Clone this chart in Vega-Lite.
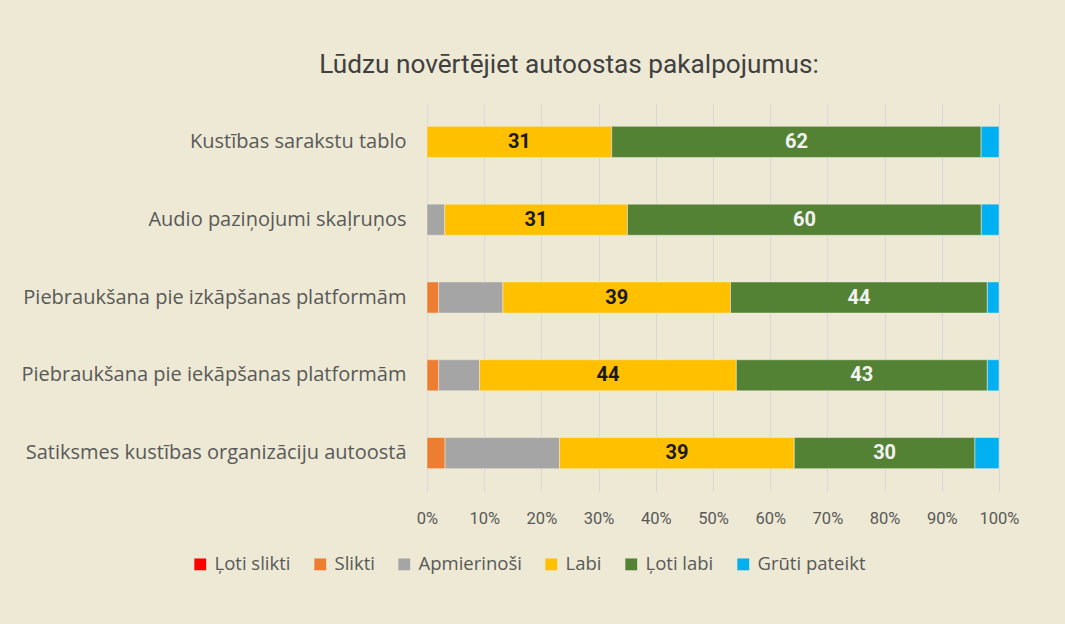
{
  "$schema": "https://vega.github.io/schema/vega-lite/v6.json",
  "autosize": "none",
  "width": 572,
  "height": 389,
  "padding": {"left": 427, "top": 103, "right": 66, "bottom": 132},
  "background": "#ede9d4",
  "title": {
    "text": "Lūdzu novērtējiet autoostas pakalpojumus:",
    "font": "Roboto",
    "fontSize": 26.2,
    "fontWeight": "normal",
    "color": "#404040",
    "anchor": "middle",
    "dx": -144,
    "offset": 25
  },
  "data": {
    "values": [
      {"q": "Kustības sarakstu tablo", "cat": "Labi", "o": 4, "count": 31},
      {"q": "Kustības sarakstu tablo", "cat": "Ļoti labi", "o": 5, "count": 62},
      {"q": "Kustības sarakstu tablo", "cat": "Grūti pateikt", "o": 6, "count": 3},
      {"q": "Audio paziņojumi skaļruņos", "cat": "Apmierinoši", "o": 3, "count": 3},
      {"q": "Audio paziņojumi skaļruņos", "cat": "Labi", "o": 4, "count": 31},
      {"q": "Audio paziņojumi skaļruņos", "cat": "Ļoti labi", "o": 5, "count": 60},
      {"q": "Audio paziņojumi skaļruņos", "cat": "Grūti pateikt", "o": 6, "count": 3},
      {"q": "Piebraukšana pie izkāpšanas platformām", "cat": "Slikti", "o": 2, "count": 2},
      {"q": "Piebraukšana pie izkāpšanas platformām", "cat": "Apmierinoši", "o": 3, "count": 11},
      {"q": "Piebraukšana pie izkāpšanas platformām", "cat": "Labi", "o": 4, "count": 39},
      {"q": "Piebraukšana pie izkāpšanas platformām", "cat": "Ļoti labi", "o": 5, "count": 44},
      {"q": "Piebraukšana pie izkāpšanas platformām", "cat": "Grūti pateikt", "o": 6, "count": 2},
      {"q": "Piebraukšana pie iekāpšanas platformām", "cat": "Slikti", "o": 2, "count": 2},
      {"q": "Piebraukšana pie iekāpšanas platformām", "cat": "Apmierinoši", "o": 3, "count": 7},
      {"q": "Piebraukšana pie iekāpšanas platformām", "cat": "Labi", "o": 4, "count": 44},
      {"q": "Piebraukšana pie iekāpšanas platformām", "cat": "Ļoti labi", "o": 5, "count": 43},
      {"q": "Piebraukšana pie iekāpšanas platformām", "cat": "Grūti pateikt", "o": 6, "count": 2},
      {"q": "Satiksmes kustības organizāciju autoostā", "cat": "Slikti", "o": 2, "count": 3},
      {"q": "Satiksmes kustības organizāciju autoostā", "cat": "Apmierinoši", "o": 3, "count": 19},
      {"q": "Satiksmes kustības organizāciju autoostā", "cat": "Labi", "o": 4, "count": 39},
      {"q": "Satiksmes kustības organizāciju autoostā", "cat": "Ļoti labi", "o": 5, "count": 30},
      {"q": "Satiksmes kustības organizāciju autoostā", "cat": "Grūti pateikt", "o": 6, "count": 4}
    ]
  },
  "encoding": {
    "y": {
      "field": "q",
      "type": "nominal",
      "sort": [
        "Kustības sarakstu tablo",
        "Audio paziņojumi skaļruņos",
        "Piebraukšana pie izkāpšanas platformām",
        "Piebraukšana pie iekāpšanas platformām",
        "Satiksmes kustības organizāciju autoostā"
      ],
      "scale": {"paddingInner": 0.6, "paddingOuter": 0.3},
      "axis": {
        "title": null,
        "domain": false,
        "ticks": false,
        "grid": false,
        "labelPadding": 21,
        "labelFont": "Open Sans",
        "labelFontSize": 20,
        "labelColor": "#595959",
        "labelLimit": 0
      }
    },
    "x": {
      "field": "count",
      "type": "quantitative",
      "aggregate": "sum",
      "stack": "normalize",
      "scale": {"domain": [0, 1], "nice": false},
      "axis": {
        "title": null,
        "format": ".0%",
        "values": [0, 0.1, 0.2, 0.3, 0.4, 0.5, 0.6, 0.7, 0.8, 0.9, 1],
        "labelOverlap": false,
        "labelFlush": false,
        "domain": false,
        "ticks": false,
        "grid": true,
        "gridColor": "#d9d9d9",
        "gridWidth": 1,
        "labelPadding": 18,
        "labelFont": "Roboto",
        "labelFontSize": 16.5,
        "labelColor": "#595959"
      }
    },
    "order": {"field": "o", "type": "quantitative"}
  },
  "layer": [
    {
      "mark": {"type": "bar", "stroke": "#f3efe0", "strokeWidth": 0.5},
      "encoding": {
        "color": {
          "field": "cat",
          "type": "nominal",
          "scale": {
            "domain": ["Ļoti slikti", "Slikti", "Apmierinoši", "Labi", "Ļoti labi", "Grūti pateikt"],
            "range": ["#ff0000", "#ed7d31", "#a5a5a5", "#ffc000", "#548235", "#00b0f0"]
          },
          "legend": {
            "title": null,
            "orient": "none",
            "direction": "horizontal",
            "legendX": -236,
            "legendY": 452,
            "symbolType": "square",
            "symbolSize": 140,
            "symbolStrokeWidth": 0,
            "symbolOffset": 0,
            "labelOffset": 5,
            "columnPadding": 20,
            "labelFont": "Open Sans",
            "labelFontSize": 18.5,
            "labelColor": "#595959",
            "labelLimit": 0
          }
        }
      }
    },
    {
      "mark": {
        "type": "text",
        "font": "Roboto",
        "fontSize": 20,
        "fontWeight": "bold",
        "baseline": "middle",
        "align": "center"
      },
      "encoding": {
        "x": {
          "field": "count",
          "type": "quantitative",
          "aggregate": "sum",
          "stack": "normalize",
          "bandPosition": 0.5
        },
        "text": {
          "condition": {"test": "datum.cat === 'Labi' || datum.cat === 'Ļoti labi'", "field": "count", "aggregate": "sum", "type": "quantitative"},
          "value": ""
        },
        "detail": {"field": "cat", "type": "nominal"},
        "color": {
          "condition": {"test": "datum.cat === 'Ļoti labi'", "value": "#f2f2f2"},
          "value": "#1a1a1a"
        }
      }
    }
  ],
  "config": {"view": {"stroke": null}}
}
